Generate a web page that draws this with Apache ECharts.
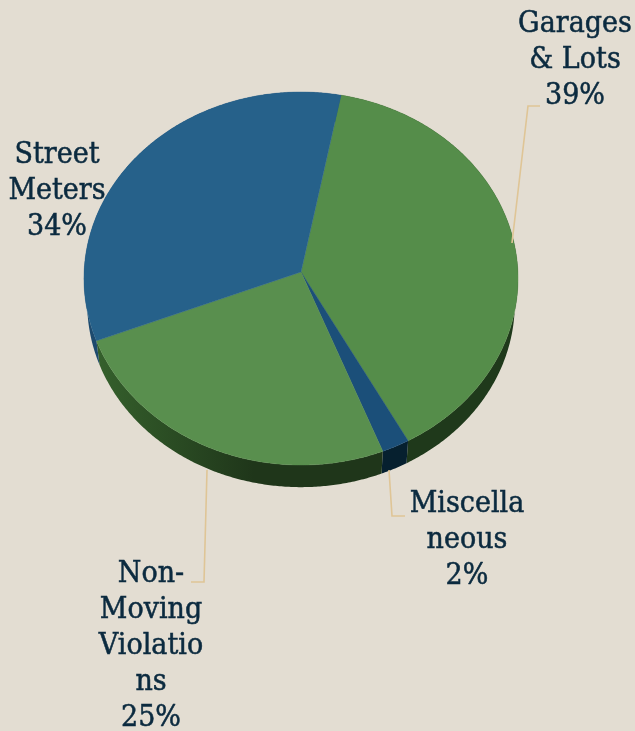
<!DOCTYPE html>
<html>
<head>
<meta charset="utf-8">
<style>html,body{margin:0;padding:0;background:#e3ddd2}#chart{width:635px;height:731px}</style>
<script src="https://cdn.jsdelivr.net/npm/echarts@6/dist/echarts.min.js"></script>
</head>
<body>
<div id="chart"></div>
<script>
// Parking revenue shares, clockwise from the top of the tilted disc
const categories = ['Garages\n& Lots', 'Miscella\nneous', 'Non-\nMoving\nViolatio\nns', 'Street\nMeters'];
const shares = [39, 2, 25, 34];

// Presentation tables, one entry per category
const topColors = ['#558d4a', '#1b4f79', '#598f4e', '#26618a'];
const sideStops = [
  ['#1f391b', '#1f391b'],
  ['#06202f', '#06202f'],
  ['#1f361a', '#35602c'],
  ['#1d4a6e', '#1d4a6e']
];
const labelCenters = [[575, 60], [467, 540], [151, 646], [57, 191]];
const leaderPaths = [
  [[512, 243], [528, 106], [540, 106]],
  [[389, 470], [392, 516], [405, 516]],
  [[207, 470], [204, 582], [191, 582]],
  null
];

// Projection of the disc: a circle seen in slight perspective
const view = { cx: 301, cy: 272, a: 216.9, b: 186.3, k: -0.0349, depth: 25, shrink: 0.985, startDeg: 11 };

function project(deg, lower) {
  const t = deg * Math.PI / 180;
  const u = Math.sin(t), v = -Math.cos(t);
  const w = 1 + view.k * v;
  const s = lower ? view.shrink : 1;
  return [
    view.cx + s * view.a * u / w,
    view.cy + s * view.b * v / w + (lower ? view.depth : 0)
  ];
}

const total = shares.reduce((a, b) => a + b, 0);
function sliceRange(index) {
  let sum = 0;
  for (let i = 0; i < index; i++) sum += shares[i];
  const from = view.startDeg + sum / total * 360;
  return [from, from + shares[index] / total * 360];
}
function rim(from, to, lower) {
  const n = Math.max(2, Math.ceil((to - from) * 2));
  const pts = [];
  for (let i = 0; i <= n; i++) pts.push(project(from + (to - from) * i / n, lower));
  return pts;
}

function renderTop(params) {
  const [from, to] = sliceRange(params.dataIndex);
  const pts = [[view.cx, view.cy]].concat(rim(from, to, false));
  return {
    type: 'polygon',
    shape: { points: pts },
    style: { fill: topColors[params.dataIndex], stroke: topColors[params.dataIndex], lineWidth: 0.4 }
  };
}
function renderSide(params) {
  const [from, to] = sliceRange(params.dataIndex);
  const pts = rim(from, to, false).concat(rim(from, to, true).reverse());
  const stops = sideStops[params.dataIndex];
  const xs = pts.map(p => p[0]);
  return {
    type: 'polygon',
    shape: { points: pts },
    style: {
      // The wall lightens toward its outer end
      fill: new echarts.graphic.LinearGradient(
        Math.min.apply(null, xs), 0, Math.max.apply(null, xs), 0,
        [{ offset: 0, color: stops[1] }, { offset: 0.55, color: stops[0] }, { offset: 1, color: stops[0] }], true)
    }
  };
}

const seriesData = shares.map((v, i) => ({ name: categories[i].replace(/\n/g, ' '), value: v }));

const graphicElements = [];
leaderPaths.forEach(path => {
  if (!path) return;
  graphicElements.push({
    type: 'polyline', z: 20, silent: true,
    shape: { points: path },
    style: { fill: null, stroke: '#dfc596', lineWidth: 1.6 }
  });
});
categories.forEach((name, i) => {
  graphicElements.push({
    type: 'text', z: 30, silent: true,
    x: labelCenters[i][0], y: labelCenters[i][1],
    scaleY: 1.08,
    style: {
      text: name + '\n' + shares[i] + '%',
      fill: '#0b2a3f',
      font: '27px "DejaVu Serif", serif',
      lineHeight: 33.3,
      align: 'center',
      verticalAlign: 'middle',
      stroke: '#0b2a3f',
      lineWidth: 0.5
    }
  });
});

const chart = echarts.init(document.getElementById('chart'), null, { renderer: 'canvas' });
chart.setOption({
  animation: false,
  backgroundColor: '#e3ddd2',
  series: [
    { type: 'custom', coordinateSystem: 'none', silent: true, z: 1, renderItem: renderSide, data: seriesData },
    { type: 'custom', coordinateSystem: 'none', silent: true, z: 2, renderItem: renderTop, data: seriesData }
  ],
  graphic: { elements: graphicElements }
});
</script>
</body>
</html>
